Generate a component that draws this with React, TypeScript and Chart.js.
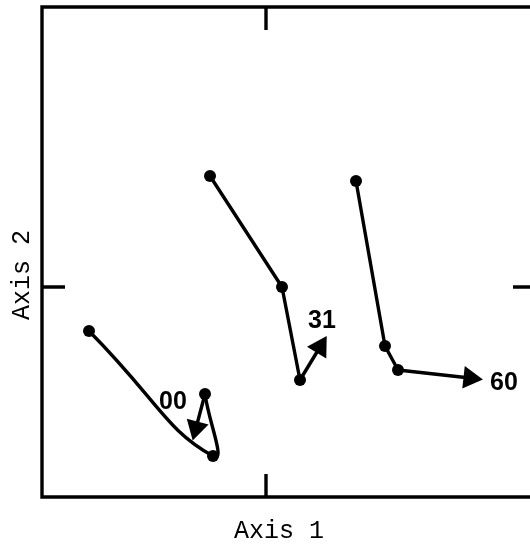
import React, { useEffect, useRef } from "react";
import { Chart, registerables } from "chart.js";

Chart.register(...registerables);

// ---- data (ordination scores) ----
const seriesLabels = ["00", "31", "60"];
const s00X = [-1.77, -0.53, -0.61];
const s00Y = [-0.44, -1.69, -1.07];
const s31X = [-0.56, 0.16, 0.34];
const s31Y = [1.11, 0.0, -0.93];
const s60X = [0.9, 1.19, 1.32];
const s60Y = [1.06, -0.59, -0.83];
// arrow ends (direction of change after the last sample)
const arrowEndX = [-0.7, 0.54, 2.04];
const arrowEndY = [-1.41, -0.6, -0.91];
// axis ranges and reference ticks
const xRange = [-2.24, 2.64];
const yRange = [-2.1, 2.8];
const tickValues = [0];
const axisTitles = ["Axis 1", "Axis 2"];

// ---- styles ----
const INK = "#000000";
const LINE_W = 3.4;
const FRAME_W = 3.4;
const DOT_R = 6;
const ARROW_R = 13;
const TICK_LEN = 23;
const LABEL_FONT = "bold 25px 'Liberation Sans', Arial, sans-serif";
const TITLE_FONT = "25px 'Liberation Mono', 'DejaVu Sans Mono', monospace";
// pixel offsets of the series labels from their anchor points
const labelOffsets = [
  { anchor: "last", dx: -32, dy: 8 },
  { anchor: "arrow", dx: 2, dy: -26 },
  { anchor: "arrow", dx: 34, dy: 5 },
];

const pts = (xs: number[], ys: number[]) => xs.map((x, i) => ({ x, y: ys[i] }));
const seriesX = [s00X, s31X, s60X];
const seriesY = [s00Y, s31Y, s60Y];

function arrowRotation(ctx: any) {
  const data = ctx.dataset.data;
  const xs = ctx.chart.scales.x;
  const ys = ctx.chart.scales.y;
  if (!xs || !ys || data.length < 2) return 0;
  const dx = xs.getPixelForValue(data[1].x) - xs.getPixelForValue(data[0].x);
  const dy = ys.getPixelForValue(data[1].y) - ys.getPixelForValue(data[0].y);
  return (Math.atan2(dx, -dy) * 180) / Math.PI;
}

const framePlugin = {
  id: "frameAndLabels",
  afterDatasetsDraw(chart: any) {
    const { ctx, chartArea: a, scales, width } = chart;
    const xs = scales.x;
    const ys = scales.y;
    ctx.save();
    ctx.strokeStyle = INK;
    ctx.lineWidth = FRAME_W;
    ctx.lineCap = "square";
    // frame: the right side runs past the edge of the picture
    ctx.beginPath();
    ctx.moveTo(width + 10, a.top);
    ctx.lineTo(a.left, a.top);
    ctx.lineTo(a.left, a.bottom);
    ctx.lineTo(width + 10, a.bottom);
    ctx.stroke();
    ctx.lineCap = "butt";
    ctx.beginPath();
    tickValues.forEach((v) => {
      const tx = xs.getPixelForValue(v);
      const ty = ys.getPixelForValue(v);
      ctx.moveTo(tx, a.top);
      ctx.lineTo(tx, a.top + TICK_LEN);
      ctx.moveTo(tx, a.bottom);
      ctx.lineTo(tx, a.bottom - TICK_LEN);
      ctx.moveTo(a.left, ty);
      ctx.lineTo(a.left + TICK_LEN, ty);
      ctx.moveTo(a.right + 6, ty);
      ctx.lineTo(a.right - TICK_LEN + 6, ty);
    });
    ctx.stroke();

    // series labels
    ctx.fillStyle = INK;
    ctx.font = LABEL_FONT;
    ctx.textAlign = "center";
    ctx.textBaseline = "middle";
    seriesLabels.forEach((lab, i) => {
      const o = labelOffsets[i];
      const n = seriesX[i].length - 1;
      const vx = o.anchor === "arrow" ? arrowEndX[i] : seriesX[i][n];
      const vy = o.anchor === "arrow" ? arrowEndY[i] : seriesY[i][n];
      ctx.fillText(lab, xs.getPixelForValue(vx) + o.dx, ys.getPixelForValue(vy) + o.dy);
    });

    // axis titles
    ctx.font = TITLE_FONT;
    ctx.fillText(axisTitles[0], 279, 531);
    ctx.save();
    ctx.translate(22, 275);
    ctx.rotate(-Math.PI / 2);
    ctx.fillText(axisTitles[1], 0, 0);
    ctx.restore();
    ctx.restore();
  },
};

export default function App() {
  const ref = useRef<HTMLCanvasElement | null>(null);

  useEffect(() => {
    if (!ref.current) return;
    const lineBase = {
      type: "line" as const,
      borderColor: INK,
      backgroundColor: INK,
      borderWidth: LINE_W,
      pointRadius: DOT_R,
      pointBorderWidth: 0,
      pointBackgroundColor: INK,
      fill: false,
      borderCapStyle: "round" as const,
      borderJoinStyle: "round" as const,
    };
    const arrowBase = (i: number) => ({
      type: "line" as const,
      data: [
        { x: seriesX[i][seriesX[i].length - 1], y: seriesY[i][seriesY[i].length - 1] },
        { x: arrowEndX[i], y: arrowEndY[i] },
      ],
      borderColor: INK,
      borderWidth: LINE_W,
      pointStyle: "triangle" as const,
      pointRadius: [0, ARROW_R],
      pointBorderWidth: 0,
      pointBackgroundColor: INK,
      pointRotation: arrowRotation,
      tension: 0,
    });

    const chart = new Chart(ref.current, {
      type: "line",
      data: {
        datasets: [
          // 00: curved path, first segment
          {
            ...lineBase,
            data: pts(s00X, s00Y),
            tension: 0.55,
            pointRadius: 0,
            segment: { borderColor: (c: any) => (c.p0DataIndex === 1 ? "rgba(0,0,0,0)" : INK) },
          },
          // 00: curved path, second segment + dots
          {
            ...lineBase,
            data: pts(s00X, s00Y),
            tension: 0.45,
            segment: { borderColor: (c: any) => (c.p0DataIndex === 0 ? "rgba(0,0,0,0)" : INK) },
          },
          arrowBase(0),
          { ...lineBase, data: pts(s31X, s31Y), tension: 0 },
          arrowBase(1),
          { ...lineBase, data: pts(s60X, s60Y), tension: 0 },
          arrowBase(2),
        ] as any,
      },
      options: {
        responsive: false,
        animation: false,
        devicePixelRatio: 1,
        layout: { autoPadding: false, padding: { left: 42, top: 7, right: 0, bottom: 47 } },
        plugins: { legend: { display: false }, tooltip: { enabled: false } },
        events: [],
        scales: {
          x: { type: "linear", min: xRange[0], max: xRange[1], display: false },
          y: { type: "linear", min: yRange[0], max: yRange[1], display: false },
        },
      },
      plugins: [framePlugin],
    });
    return () => chart.destroy();
  }, []);

  return (
    <div style={{ position: "fixed", left: 0, top: 0, width: 530, height: 544, background: "#ffffff" }}>
      <canvas ref={ref} width={530} height={544} style={{ display: "block" }} />
    </div>
  );
}
